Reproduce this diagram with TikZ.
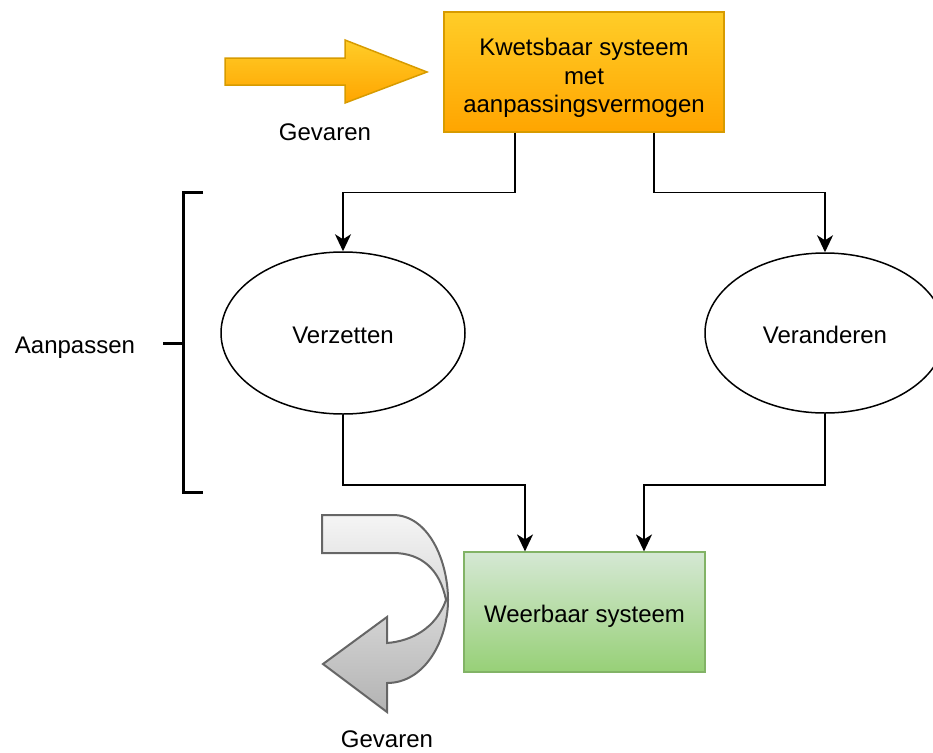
\documentclass[tikz,border=0pt]{standalone}
\usepackage{fontspec}
\setmainfont{Liberation Sans}
\usetikzlibrary{arrows.meta,shapes.geometric}

\definecolor{orangeTop}{HTML}{FFCD28}
\definecolor{orangeBot}{HTML}{FFA500}
\definecolor{orangeLine}{HTML}{D79B00}
\definecolor{greenTop}{HTML}{D5E8D4}
\definecolor{greenBot}{HTML}{97D077}
\definecolor{greenLine}{HTML}{82B366}
\definecolor{grayTop}{HTML}{F5F5F5}
\definecolor{grayBot}{HTML}{B3B3B3}
\definecolor{grayLine}{HTML}{666666}

\tikzset{
  every node/.style={font=\fontsize{24}{28.5}\selectfont},
  oneline/.style={text height=21pt, text depth=0pt},
  warmbox/.style={draw=orangeLine, line width=1.2pt, top color=orangeTop, bottom color=orangeBot,
    minimum width=280pt, minimum height=120pt, align=center, inner sep=0pt,
    text height=86pt, text depth=5pt},
  safebox/.style={draw=greenLine, line width=1.2pt, top color=greenTop, bottom color=greenBot,
    minimum width=241pt, minimum height=120pt, align=center, inner sep=0pt, oneline},
  oval/.style={ellipse, draw, line width=1.5pt, fill=white, inner sep=0pt, oneline},
  conn/.style={draw, line width=1.7pt, -{Stealth[length=17pt,width=16pt,inset=5pt]}},
  bracketline/.style={line width=3pt},
  hazard/.style={draw=orangeLine, line width=1.5pt, top color=orangeTop, bottom color=orangeBot},
  hazardout/.style={draw=grayLine, line width=2pt, top color=grayTop, bottom color=grayBot},
  caption/.style={inner sep=0pt, oneline}
}

\begin{document}
\begin{tikzpicture}[x=1pt, y=-1pt]
  \useasboundingbox (0,0) rectangle (933,752);
  \clip (0,0) rectangle (933,752);

  % incoming hazard arrow
  \path[hazard] (225,58) -- (345,58) -- (345,40) -- (427,72) -- (345,103)
    -- (345,85) -- (225,85) -- cycle;
  \node[caption] (gevIn) at (325,130) {Gevaren};

  % main boxes
  \node[warmbox] (kb) at (584,72) {Kwetsbaar systeem\\met\\aanpassingsvermogen};
  \node[oval, minimum width=244pt, minimum height=162pt] (vz) at (343,333) {Verzetten};
  \node[oval, minimum width=240pt, minimum height=160pt] (vr) at (825,333) {Veranderen};
  \node[safebox] (wb) at (584.5,612) {Weerbaar systeem};

  % connectors
  \draw[conn] ([xshift=-69pt]kb.south) -- ++(0,60) -| (vz.north);
  \draw[conn] ([xshift=70pt]kb.south) -- ++(0,60) -| (vr.north);
  \draw[conn] (vz.south) -- ++(0,70) -| ([xshift=-59.5pt]wb.north);
  \draw[conn] (vr.south) -- ++(0,71) -| ([xshift=59.5pt]wb.north);

  % bracket grouping the two adaptation strategies
  \coordinate (bt) at (183,192);
  \coordinate (bb) at (183,492);
  \coordinate (bm) at (183,343);
  \draw[bracketline] ([xshift=20pt]bt) -- (bt) -- (bb) -- ([xshift=20pt]bb);
  \draw[bracketline] (bm) -- ([xshift=-20pt]bm);
  \node[caption] (aanp) at (75,343) {Aanpassen};

  % deflected hazard arrow
  \path[hazardout] (322,515) -- (393,515)
    .. controls (428,515) and (448,560) .. (448,600)
    .. controls (448,640) and (425,683) .. (387,683)
    -- (387,712) -- (323,664) -- (387,617) -- (387,643)
    .. controls (412,641) and (436,628) .. (446,600)
    .. controls (440,570) and (422,553) .. (393,553)
    -- (322,553) -- cycle;
  \node[caption] (gevOut) at (387,737) {Gevaren};
\end{tikzpicture}
\end{document}
